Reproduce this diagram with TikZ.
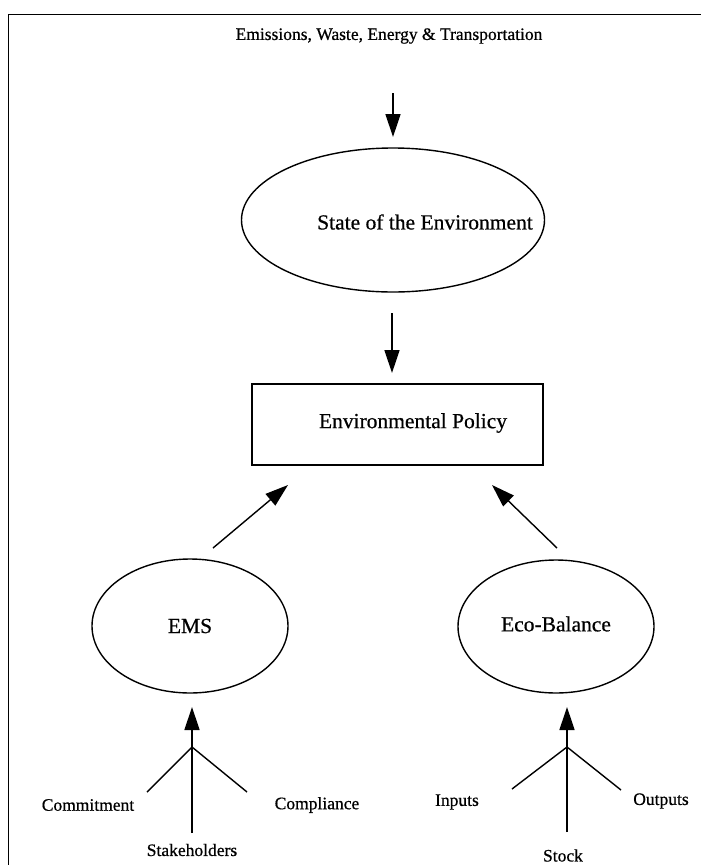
\documentclass[tikz,border=0pt]{standalone}
\usepackage{fontspec}
\setmainfont{Liberation Serif}
% slightly heavier strokes for the printed-look labels
\newfontfamily\labelfont{Liberation Serif}[FakeBold=0.6]
\usetikzlibrary{shapes.geometric,arrows.meta}
\begin{document}
\begin{tikzpicture}[x=1pt,y=-1pt,
  line width=1.4pt,
  bigtext/.style={inner sep=0pt,font=\labelfont\fontsize{21.5}{24}\selectfont},
  smalltext/.style={inner sep=0pt,font=\labelfont\fontsize{17.5}{20}\selectfont},
  oval/.style={draw,ellipse,inner sep=0pt},
  flow/.style={-{Triangle[length=23pt,width=15pt]}}
]
\useasboundingbox (0,0) rectangle (701,865);
% outer frame (open at right and bottom)
\draw[line width=1.5pt] (8.5,866) -- (8.5,14.5) -- (702,14.5);

% top source label and state ellipse
\node[smalltext] (src) at (389,36) {Emissions, Waste, Energy \& Transportation};
\node[oval,minimum width=303pt,minimum height=144pt] (soe) at (393,220) {};
\node[bigtext] (soelbl) at (425,222) {State of the Environment};

% policy box
\node[draw,minimum width=291pt,minimum height=81pt,inner sep=0pt] (pol) at (397.5,424.5) {};
\node[bigtext] (pollbl) at (413,423) {Environmental Policy};

% lower ellipses
\node[oval,minimum width=196pt,minimum height=134pt] (ems) at (190,626) {};
\node[bigtext] (emslbl) at (190,626) {EMS};
\node[oval,minimum width=196pt,minimum height=133pt] (eco) at (556,626.5) {};
\node[bigtext] (ecolbl) at (556,624) {Eco-Balance};

% input labels
\node[smalltext] (commit) at (88,805) {Commitment};
\node[smalltext] (stake) at (192,850) {Stakeholders};
\node[smalltext] (compl) at (317,805) {Compliance};
\node[smalltext] (inp) at (457,802) {Inputs};
\node[smalltext] (outp) at (661,801) {Outputs};
\node[smalltext] (stock) at (563,855.5) {Stock};

% arrow end points
\coordinate (t0) at (393,93);   \coordinate (t1) at (393,137);
\coordinate (m0) at (392,313);  \coordinate (m1) at (392,373);
\coordinate (l0) at (213,548);  \coordinate (l1) at (288,485);
\coordinate (r0) at (557,548);  \coordinate (r1) at (492,485);

\draw[flow] (t0) -- (t1);
\draw[flow] (m0) -- (m1);
\draw[flow] (l0) -- (l1);
\draw[flow] (r0) -- (r1);

% EMS input fork
\coordinate (ej) at (192,747);
\coordinate (eb) at (192,833);
\coordinate (et) at (192,707);
\coordinate (el) at (147,792);
\coordinate (er) at (247,792);
\draw[flow] (eb) -- (et);
\draw (el) -- (ej) -- (er);

% Eco-Balance input fork
\coordinate (cj) at (567,747);
\coordinate (cb) at (567,832);
\coordinate (ct) at (567,707);
\coordinate (cl) at (512,789);
\coordinate (cr) at (621,790);
\draw[flow] (cb) -- (ct);
\draw (cl) -- (cj) -- (cr);
\end{tikzpicture}
\end{document}
